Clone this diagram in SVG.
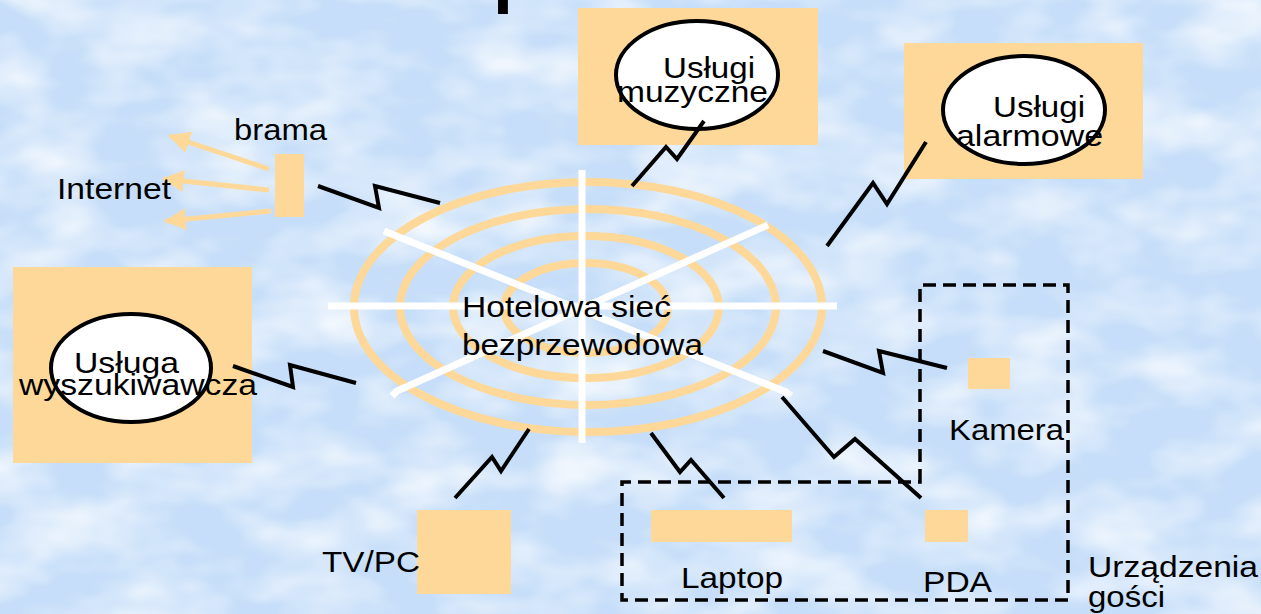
<svg xmlns="http://www.w3.org/2000/svg" width="1261" height="614" viewBox="0 0 1261 614">
  <defs>
    <style>
      .lbl { font-family: "Liberation Sans", Arial, sans-serif; font-size: 30px; fill: #000; }
      .pad { fill: #FDD898; }
      .bubble { fill: #fff; stroke: #000; stroke-width: 4; }
      .link { fill: none; stroke: #000; stroke-width: 4; stroke-linejoin: miter; }
      .ring { fill: none; stroke: #FDD898; stroke-width: 8; }
      .spoke { stroke: #fff; stroke-width: 7; fill: none; }
      .uplink { stroke: #FDD898; stroke-width: 5; fill: none; }
      .group { fill: none; stroke: #000; stroke-width: 3.5; stroke-dasharray: 13 7; }
    </style>
    <filter id="clouds" x="0" y="0" width="100%" height="100%">
      <feTurbulence type="fractalNoise" baseFrequency="0.011 0.02" numOctaves="3" seed="7"/>
      <feColorMatrix type="matrix" values="0 0 0 0 1  0 0 0 0 1  0 0 0 0 1  0 0 0 1.5 -0.55"/>
    </filter>
    <marker id="head" viewBox="0 0 10 10" refX="9" refY="5" markerWidth="4.4" markerHeight="4.4" orient="auto" markerUnits="strokeWidth">
      <path d="M0,0 L10,5 L0,10 Z" fill="#FDD898"/>
    </marker>
  </defs>

  <!-- sky background -->
  <rect width="1261" height="614" fill="#C6DEF9"/>
  <rect width="1261" height="614" filter="url(#clouds)"/>

  <!-- clipped title descender -->
  <text x="493" y="-1" style="font-family: 'Liberation Sans', Arial, sans-serif; font-size: 72px; font-weight: bold;">p</text>

  <!-- hotel wireless network hub -->
  <g id="hub">
    <ellipse class="ring" cx="588" cy="307" rx="234" ry="125"/>
    <ellipse class="ring" cx="588" cy="307" rx="188" ry="98"/>
    <ellipse class="ring" cx="586" cy="307" rx="133" ry="71"/>
    <ellipse class="ring" cx="586" cy="308" rx="82" ry="45"/>
    <line class="spoke" x1="582" y1="170" x2="582" y2="443"/>
    <line class="spoke" x1="328" y1="306" x2="837" y2="306"/>
    <polyline class="spoke" points="384,231 786,392 791,396"/>
    <polyline class="spoke" points="768,225 397,391 392,396"/>
    <text class="lbl" x="462" y="317" textLength="209" lengthAdjust="spacingAndGlyphs">Hotelowa sieć</text>
    <text class="lbl" x="462" y="355" textLength="241" lengthAdjust="spacingAndGlyphs">bezprzewodowa</text>
  </g>

  <!-- gateway -->
  <g id="gateway">
    <rect class="pad" x="275" y="154" width="29" height="63"/>
    <text class="lbl" x="234" y="140" textLength="93" lengthAdjust="spacingAndGlyphs">brama</text>
  </g>

  <!-- internet uplinks -->
  <g id="internet">
    <line class="uplink" x1="269" y1="169" x2="170" y2="136" marker-end="url(#head)"/>
    <line class="uplink" x1="269" y1="190" x2="164" y2="179" marker-end="url(#head)"/>
    <line class="uplink" x1="271" y1="211" x2="166" y2="221" marker-end="url(#head)"/>
    <text class="lbl" x="57" y="199" textLength="114" lengthAdjust="spacingAndGlyphs">Internet</text>
  </g>

  <!-- music service -->
  <g id="music">
    <rect class="pad" x="578" y="8" width="240" height="137"/>
    <ellipse class="bubble" cx="697" cy="75" rx="81" ry="54"/>
    <text class="lbl" x="663" y="78" textLength="92" lengthAdjust="spacingAndGlyphs">Usługi</text>
    <text class="lbl" x="617" y="102" textLength="151" lengthAdjust="spacingAndGlyphs">muzyczne</text>
  </g>

  <!-- alarm service -->
  <g id="alarm">
    <rect class="pad" x="904" y="43" width="239" height="136"/>
    <ellipse class="bubble" cx="1024" cy="110" rx="81" ry="54"/>
    <text class="lbl" x="993" y="117" textLength="92" lengthAdjust="spacingAndGlyphs">Usługi</text>
    <text class="lbl" x="956" y="146" textLength="147" lengthAdjust="spacingAndGlyphs">alarmowe</text>
  </g>

  <!-- search service -->
  <g id="search">
    <rect class="pad" x="13" y="267" width="239" height="196"/>
    <ellipse class="bubble" cx="131" cy="368" rx="80" ry="54"/>
    <text class="lbl" x="74" y="373" textLength="105" lengthAdjust="spacingAndGlyphs">Usługa</text>
    <text class="lbl" x="19" y="395" textLength="238" lengthAdjust="spacingAndGlyphs">wyszukiwawcza</text>
  </g>

  <!-- TV / PC -->
  <g id="tvpc">
    <rect class="pad" x="417" y="510" width="94" height="84"/>
    <text class="lbl" x="322" y="572" textLength="98" lengthAdjust="spacingAndGlyphs">TV/PC</text>
  </g>

  <!-- camera -->
  <g id="camera">
    <rect class="pad" x="968" y="358" width="42" height="31"/>
    <text class="lbl" x="949" y="440" textLength="115" lengthAdjust="spacingAndGlyphs">Kamera</text>
  </g>

  <!-- laptop -->
  <g id="laptop">
    <rect class="pad" x="651" y="510" width="141" height="32"/>
    <text class="lbl" x="681" y="588" textLength="102" lengthAdjust="spacingAndGlyphs">Laptop</text>
  </g>

  <!-- PDA -->
  <g id="pda">
    <rect class="pad" x="925" y="510" width="43" height="32"/>
    <text class="lbl" x="923" y="592" textLength="69" lengthAdjust="spacingAndGlyphs">PDA</text>
  </g>

  <!-- guest devices boundary -->
  <g id="guest-devices">
    <path class="group" d="M920,482 L920,285 L1068,285 L1068,600 L622,600 L622,482 Z"/>
    <text class="lbl" x="1088" y="577" textLength="170" lengthAdjust="spacingAndGlyphs">Urządzenia</text>
    <text class="lbl" x="1088" y="607" textLength="77" lengthAdjust="spacingAndGlyphs">gości</text>
  </g>

  <!-- wireless links -->
  <g id="links">
    <polyline class="link" points="318,186 379,208 375,186 440,203"/>
    <polyline class="link" points="632,186 666,147 677,159 704,121"/>
    <polyline class="link" points="827,246 873,183 887,204 926,142"/>
    <polyline class="link" points="233,366 293,387 290,365 356,383"/>
    <polyline class="link" points="455,498 492,457 501,471 529,429"/>
    <polyline class="link" points="823,351 883,373 879,351 947,368"/>
    <polyline class="link" points="651,433 680,472 691,460 724,498"/>
    <polyline class="link" points="782,397 834,457 855,439 921,498"/>
  </g>
</svg>
